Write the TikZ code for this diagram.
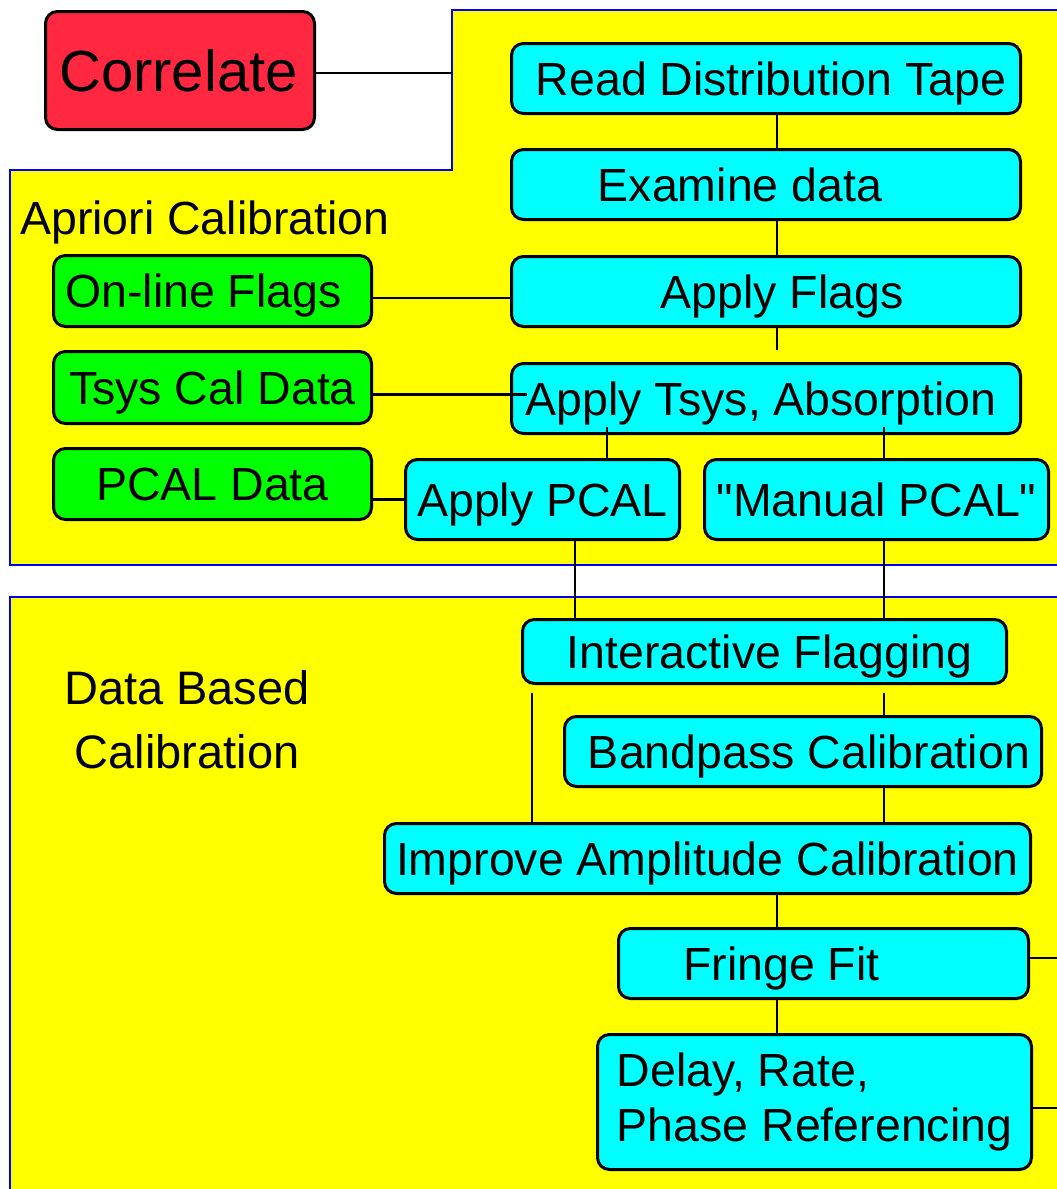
\documentclass[tikz,border=0pt]{standalone}
\usepackage{fontspec}
\setmainfont{Liberation Sans}[Ligatures=TeXOff]
\definecolor{corrred}{RGB}{255,40,64}
\definecolor{proccyan}{RGB}{0,255,255}
\definecolor{calgreen}{RGB}{0,255,0}
\definecolor{stageyellow}{RGB}{255,255,0}
\definecolor{edgeblue}{RGB}{0,0,255}
\newcommand{\boxfont}{\fontsize{46.5}{55}\selectfont}

\begin{document}
\begin{tikzpicture}[x=1pt, y=-1pt,
  box/.style={draw, line width=3pt, rounded corners=12pt, inner sep=0pt, font=\boxfont},
  proc/.style={box, fill=proccyan, text height=33pt, text depth=0pt},
  calin/.style={box, fill=calgreen, text height=33pt, text depth=0pt},
  link/.style={line width=2.2pt},
  stage/.style={fill=stageyellow, draw=edgeblue, line width=1.5pt}]
\useasboundingbox (0,0) rectangle (1057,1189);
\clip (0,0) rectangle (1057,1189);
\fill[white] (0,0) rectangle (1057,1189);

% the two calibration stages
\draw[stage] (452,10) -- (1062,10) -- (1062,565) -- (10,565) -- (10,170) -- (452,170) -- cycle;
\draw[stage] (10,597) rectangle (1062,1194);

\node[box, fill=corrred, minimum width=269pt, minimum height=118pt,
      text height=42pt, text depth=0pt, font=\fontsize{58}{60}\selectfont] (corr) at (180,70.5) {Correlate\kern3pt};

\node[font=\boxfont, anchor=base west, inner sep=0pt] (apriori) at (20,234) {Apriori Calibration};
\node[font=\fontsize{47}{64}\selectfont, align=center, inner sep=0pt] (databased) at (187,719.5) {Data Based\\Calibration};

\node[proc, minimum width=509pt, minimum height=70pt] (rdt) at (766,78.5) {Read Distribution Tape\kern-10pt};
\node[proc, minimum width=509pt, minimum height=70pt] (exam) at (766,184.5) {Examine data\kern52pt};
\node[proc, minimum width=509pt, minimum height=70pt] (aflags) at (766,291.5) {\kern32pt Apply Flags};
\node[proc, minimum width=509pt, minimum height=70pt] (tsys) at (766,398.5) {Apply Tsys, Absorption\kern10pt};
\node[proc, minimum width=274pt, minimum height=80pt] (pcal) at (542.5,499.5) {Apply PCAL};
\node[proc, minimum width=344pt, minimum height=80pt] (mpcal) at (876.5,499.5) {"Manual PCAL"};

\node[calin, minimum width=318pt, minimum height=71pt] (online) at (212.5,291) {On-line Flags\kern18pt};
\node[calin, minimum width=318pt, minimum height=72pt] (tsyscal) at (212.5,387.5) {Tsys Cal Data};
\node[calin, minimum width=318pt, minimum height=71pt] (pcaldata) at (212.5,484) {PCAL Data};

\node[proc, minimum width=484pt, minimum height=64pt] (iflag) at (764.5,651.5) {\kern10pt Interactive Flagging};
\node[proc, minimum width=477pt, minimum height=70pt] (bpass) at (803,751.5) {\kern12pt Bandpass Calibration};
\node[proc, minimum width=646pt, minimum height=70pt] (iamp) at (707.5,858.5) {Improve Amplitude Calibration};
\node[proc, minimum width=410pt, minimum height=70pt] (fringe) at (823.5,963.5) {Fringe Fit\kern84pt};
\node[box, fill=proccyan, minimum width=434pt, minimum height=135pt,
      align=left] (drp) at (814.5,1102) {Delay, Rate,\\Phase Referencing};

\coordinate (xm) at (777,0);
\coordinate (xl) at (607,0);
\coordinate (xr) at (884,0);
\coordinate (xp) at (575,0);
\coordinate (xi) at (532,0);
\coordinate (rim) at (1057,0);
\coordinate (notch) at (452,73);

\draw[link] (corr.east |- notch) -- (notch);
\draw[link] (rdt.south -| xm) -- (exam.north -| xm);
\draw[link] (exam.south -| xm) -- (aflags.north -| xm);
\draw[link, shorten >=12pt] (aflags.south -| xm) -- (tsys.north -| xm);

\draw[link] ([yshift=-7pt]online.east) -- ([yshift=-7pt]online.east -| aflags.west);
\draw[link, shorten >=-17pt] ([yshift=-7pt]tsyscal.east) -- ([yshift=-7pt]tsyscal.east -| tsys.west);
\draw[link] (pcaldata.east |- pcal.west) -- (pcal.west);

\draw[link, shorten <=-8pt] (tsys.south -| xl) -- (pcal.north -| xl);
\draw[link, shorten <=-8pt] (tsys.south -| xr) -- (mpcal.north -| xr);
\draw[link] (pcal.south -| xp) -- (iflag.north -| xp);
\draw[link] (mpcal.south -| xr) -- (iflag.north -| xr);

\draw[link, shorten <=8pt] (iflag.south -| xi) -- (iamp.north -| xi);
\draw[link, shorten <=8pt] (iflag.south -| xr) -- (bpass.north -| xr);
\draw[link] (bpass.south -| xr) -- (iamp.north -| xr);
\draw[link] (iamp.south -| xm) -- (fringe.north -| xm);
\draw[link] (fringe.south -| xm) -- (drp.north -| xm);

\draw[link] ([yshift=5.5pt]fringe.east) -- ([yshift=5.5pt]fringe.east -| rim);
\draw[link] ([yshift=-6pt]drp.east) -- ([yshift=-6pt]drp.east -| rim);

\end{tikzpicture}
\end{document}
